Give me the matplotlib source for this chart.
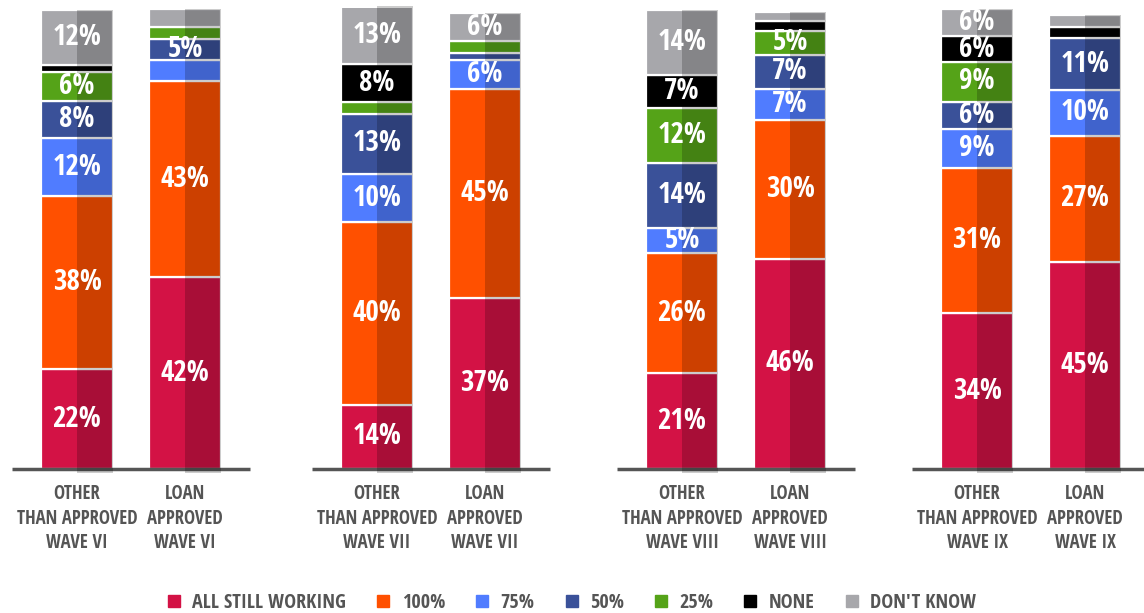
import matplotlib
matplotlib.use("Agg")
import matplotlib.pyplot as plt
import matplotlib.patches as patches
from matplotlib.lines import Line2D

plt.rcParams["font.family"] = ["Open Sans Condensed", "DejaVu Sans"]

categories = ["ALL STILL WORKING", "100%", "75%", "50%", "25%", "NONE", "DON'T KNOW"]
colors = ["#D31245", "#FF5000", "#507CFF", "#3A5199", "#55A318", "#000000", "#A7A7AB"]

bar_labels = [
    "OTHER\nTHAN APPROVED\nWAVE VI", "LOAN\nAPPROVED\nWAVE VI",
    "OTHER\nTHAN APPROVED\nWAVE VII", "LOAN\nAPPROVED\nWAVE VII",
    "OTHER\nTHAN APPROVED\nWAVE VIII", "LOAN\nAPPROVED\nWAVE VIII",
    "OTHER\nTHAN APPROVED\nWAVE IX", "LOAN\nAPPROVED\nWAVE IX",
]

# one list per response category, one value per bar
all_still_working = [21.6, 41.6, 13.9, 37.1, 20.8, 45.6, 33.8, 44.9]
full_100 = [37.7, 42.6, 39.6, 45.3, 26.0, 30.2, 31.4, 27.4]
pct_75 = [12.4, 4.5, 10.4, 6.4, 5.4, 6.7, 8.6, 10.0]
pct_50 = [8.2, 4.6, 13.2, 1.5, 14.1, 7.4, 5.9, 11.1]
pct_25 = [6.3, 2.5, 2.5, 2.5, 11.9, 5.2, 8.6, 0.0]
none = [1.5, 0.0, 8.2, 0.0, 7.2, 2.0, 5.6, 2.4]
dont_know = [11.9, 3.9, 12.6, 6.1, 14.1, 2.0, 5.9, 2.6]

series = [all_still_working, full_100, pct_75, pct_50, pct_25, none, dont_know]

fig = plt.figure(figsize=(11.44, 6.13), dpi=100)
ax = fig.add_axes([0, 144 / 613, 1, 461 / 613])
ax.set_xlim(0, 11.44)
ax.set_ylim(0, 100)
ax.axis("off")

width = 0.72
centers = []
for g in range(4):
    for j in range(2):
        centers.append(0.77 + 3.0 * g + 1.08 * j)
centers[4] += 0.05
centers[5] += 0.05

for i, x in enumerate(centers):
    bottom = 0
    for k, vals in enumerate(series):
        v = vals[i]
        if v <= 0:
            continue
        ax.bar(x, v, width, bottom=bottom, color=colors[k], edgecolor="white",
               linewidth=1.6, zorder=2)
        if v >= 4.6:
            ax.text(x, bottom + v / 2, f"{v:.0f}%", ha="center", va="center",
                    color="white", fontsize=21, fontweight="bold", zorder=4)
        bottom += v
    # darker right half of each bar
    ax.add_patch(patches.Rectangle((x, -0.8), width / 2, bottom + 0.8,
                                   facecolor="black", alpha=0.2, linewidth=0,
                                   zorder=3, clip_on=False))
    ax.text(x, -3.3, bar_labels[i], ha="center", va="top", fontsize=13.5,
            fontweight="bold", color="#555555", linespacing=1.3)

# baseline under each group
for g in range(4):
    mid = (centers[2 * g] + centers[2 * g + 1]) / 2
    ax.plot([mid - 1.19, mid + 1.19], [0, 0], color="#555555", lw=2.5,
            zorder=2.5, clip_on=False, solid_capstyle="butt")

handles = [Line2D([], [], marker="s", linestyle="none", markersize=9,
                  markerfacecolor=c, markeredgecolor=c) for c in colors]
leg = fig.legend(handles, categories, loc="center", bbox_to_anchor=(0.5, 0.017),
                 ncol=7, frameon=False, handlelength=0.6, handletextpad=0.6,
                 columnspacing=1.55, prop={"size": 14.5, "weight": "bold"})
for t in leg.get_texts():
    t.set_color("#555555")

fig.savefig("out.png", dpi=100)
